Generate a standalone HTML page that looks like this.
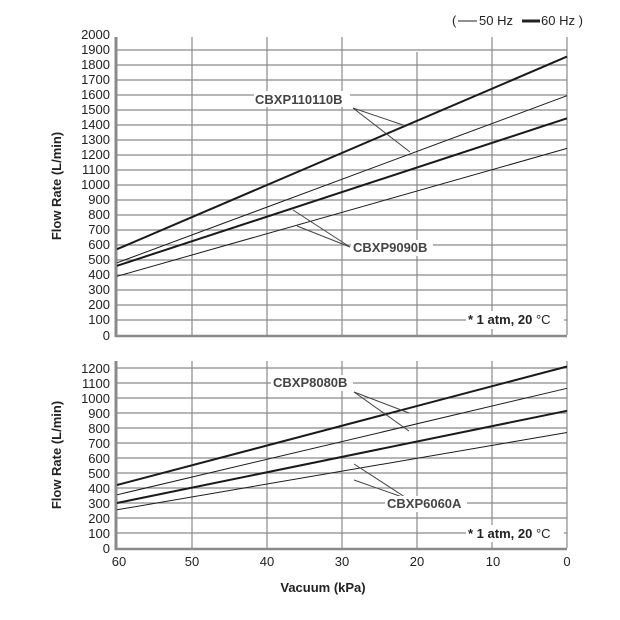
<!DOCTYPE html>
<html><head><meta charset="utf-8"><style>
html,body{margin:0;padding:0;background:#fff;}
svg{display:block;font-family:"Liberation Sans",Arial,sans-serif;}
</style></head><body>
<svg width="620" height="620" viewBox="0 0 620 620" xmlns="http://www.w3.org/2000/svg">
<!-- legend -->
<text x="452" y="25" font-size="13" fill="#222">(</text>
<line x1="458" y1="21" x2="477" y2="21" stroke="#222" stroke-width="1"/>
<text x="479" y="25" font-size="13" fill="#222">50 Hz</text>
<line x1="522" y1="21" x2="540" y2="21" stroke="#222" stroke-width="3"/>
<text x="541" y="25" font-size="13" fill="#222">60 Hz )</text>

<!-- TOP CHART -->
<g stroke="#8a8a8a" stroke-width="1.2">
<line x1="117" y1="50" x2="567" y2="50"/><line x1="117" y1="65" x2="567" y2="65"/><line x1="117" y1="80" x2="567" y2="80"/><line x1="117" y1="95" x2="567" y2="95"/><line x1="117" y1="110" x2="567" y2="110"/><line x1="117" y1="125" x2="567" y2="125"/><line x1="117" y1="140" x2="567" y2="140"/><line x1="117" y1="155" x2="567" y2="155"/><line x1="117" y1="170" x2="567" y2="170"/><line x1="117" y1="185" x2="567" y2="185"/><line x1="117" y1="200" x2="567" y2="200"/><line x1="117" y1="215" x2="567" y2="215"/><line x1="117" y1="230" x2="567" y2="230"/><line x1="117" y1="245" x2="567" y2="245"/><line x1="117" y1="260" x2="567" y2="260"/><line x1="117" y1="275" x2="567" y2="275"/><line x1="117" y1="290" x2="567" y2="290"/><line x1="117" y1="305" x2="567" y2="305"/><line x1="117" y1="320" x2="567" y2="320"/>
<line x1="192" y1="37" x2="192" y2="335"/><line x1="267" y1="37" x2="267" y2="335"/><line x1="342" y1="37" x2="342" y2="335"/><line x1="417" y1="52" x2="417" y2="335"/><line x1="492" y1="37" x2="492" y2="335"/><line x1="567" y1="37" x2="567" y2="335"/>
</g>
<line x1="116" y1="37" x2="116" y2="337" stroke="#8a8a8a" stroke-width="3"/>
<line x1="115" y1="336" x2="567" y2="336" stroke="#8a8a8a" stroke-width="2.5"/>
<g font-size="13" fill="#222" text-anchor="end">
<text x="110" y="39">2000</text><text x="110" y="54">1900</text><text x="110" y="69">1800</text><text x="110" y="84">1700</text><text x="110" y="99">1600</text><text x="110" y="114">1500</text><text x="110" y="129">1400</text><text x="110" y="144">1300</text><text x="110" y="159">1200</text><text x="110" y="174">1100</text><text x="110" y="189">1000</text><text x="110" y="204">900</text><text x="110" y="219">800</text><text x="110" y="234">700</text><text x="110" y="249">600</text><text x="110" y="264">500</text><text x="110" y="279">400</text><text x="110" y="294">300</text><text x="110" y="309">200</text><text x="110" y="324">100</text><text x="110" y="340">0</text>
</g>
<!-- series top: y = 335 - v*0.1505 -->
<line x1="117" y1="249.2" x2="567" y2="56.6" stroke="#1a1a1a" stroke-width="2"/>
<line x1="117" y1="262.8" x2="567" y2="95.7" stroke="#1a1a1a" stroke-width="1"/>
<line x1="117" y1="265.8" x2="567" y2="118.3" stroke="#1a1a1a" stroke-width="2"/>
<line x1="117" y1="276.3" x2="567" y2="148.4" stroke="#1a1a1a" stroke-width="1"/>
<g stroke="#444" stroke-width="1">
<line x1="353" y1="108" x2="403" y2="125"/><line x1="353" y1="108" x2="410" y2="152"/>
<line x1="350" y1="247" x2="293" y2="210"/><line x1="350" y1="247" x2="297" y2="226"/>
</g>
<rect x="254" y="91" width="96" height="16" fill="#fff"/>
<text x="255" y="104" font-size="13" font-weight="bold" fill="#444">CBXP110110B</text>
<rect x="351" y="240" width="82" height="16" fill="#fff"/>
<text x="353" y="252" font-size="13" font-weight="bold" fill="#444">CBXP9090B</text>
<rect x="466" y="311" width="98" height="18" fill="#fff"/>
<text x="468" y="324" font-size="13" fill="#222"><tspan font-weight="bold">* 1 atm, 20 </tspan>°C</text>
<text transform="translate(61,186) rotate(-90)" font-size="13" font-weight="bold" text-anchor="middle" fill="#222">Flow Rate (L/min)</text>

<!-- BOTTOM CHART: y = 548 - v*0.15 -->
<g stroke="#8a8a8a" stroke-width="1.2">
<line x1="117" y1="368" x2="567" y2="368"/><line x1="117" y1="383" x2="567" y2="383"/><line x1="117" y1="398" x2="567" y2="398"/><line x1="117" y1="413" x2="567" y2="413"/><line x1="117" y1="428" x2="567" y2="428"/><line x1="117" y1="443" x2="567" y2="443"/><line x1="117" y1="458" x2="567" y2="458"/><line x1="117" y1="473" x2="567" y2="473"/><line x1="117" y1="488" x2="567" y2="488"/><line x1="117" y1="503" x2="567" y2="503"/><line x1="117" y1="518" x2="567" y2="518"/><line x1="117" y1="533" x2="567" y2="533"/>
<line x1="192" y1="361" x2="192" y2="548"/><line x1="267" y1="361" x2="267" y2="548"/><line x1="342" y1="361" x2="342" y2="548"/><line x1="417" y1="361" x2="417" y2="548"/><line x1="492" y1="361" x2="492" y2="548"/><line x1="567" y1="361" x2="567" y2="548"/>
</g>
<line x1="116" y1="361" x2="116" y2="550" stroke="#8a8a8a" stroke-width="3"/>
<line x1="115" y1="549" x2="567" y2="549" stroke="#8a8a8a" stroke-width="2.5"/>
<g font-size="13" fill="#222" text-anchor="end">
<text x="110" y="373">1200</text><text x="110" y="388">1100</text><text x="110" y="403">1000</text><text x="110" y="418">900</text><text x="110" y="433">800</text><text x="110" y="448">700</text><text x="110" y="463">600</text><text x="110" y="478">500</text><text x="110" y="493">400</text><text x="110" y="508">300</text><text x="110" y="523">200</text><text x="110" y="538">100</text><text x="110" y="553">0</text>
</g>
<line x1="117" y1="485" x2="567" y2="366.5" stroke="#1a1a1a" stroke-width="2"/>
<line x1="117" y1="494.8" x2="567" y2="388.3" stroke="#1a1a1a" stroke-width="1"/>
<line x1="117" y1="503" x2="567" y2="410.8" stroke="#1a1a1a" stroke-width="2"/>
<line x1="117" y1="509.8" x2="567" y2="432.5" stroke="#1a1a1a" stroke-width="1"/>
<g stroke="#444" stroke-width="1">
<line x1="354" y1="392" x2="409" y2="413"/><line x1="354" y1="392" x2="409" y2="431"/>
<line x1="408" y1="499" x2="354" y2="464"/><line x1="408" y1="499" x2="354" y2="480"/>
</g>
<rect x="271" y="375" width="82" height="16" fill="#fff"/>
<text x="273" y="387" font-size="13" font-weight="bold" fill="#444">CBXP8080B</text>
<rect x="385" y="496" width="82" height="16" fill="#fff"/>
<text x="387" y="508" font-size="13" font-weight="bold" fill="#444">CBXP6060A</text>
<rect x="466" y="525" width="98" height="17" fill="#fff"/>
<text x="468" y="538" font-size="13" fill="#222"><tspan font-weight="bold">* 1 atm, 20 </tspan>°C</text>
<text transform="translate(61,455) rotate(-90)" font-size="13" font-weight="bold" text-anchor="middle" fill="#222">Flow Rate (L/min)</text>

<g font-size="13" fill="#222" text-anchor="middle">
<text x="119" y="566">60</text><text x="192" y="566">50</text><text x="267" y="566">40</text><text x="342" y="566">30</text><text x="417" y="566">20</text><text x="493" y="566">10</text><text x="567" y="566">0</text>
</g>
<text x="323" y="592" font-size="13" font-weight="bold" text-anchor="middle" fill="#222">Vacuum (kPa)</text>
</svg>
</body></html>
